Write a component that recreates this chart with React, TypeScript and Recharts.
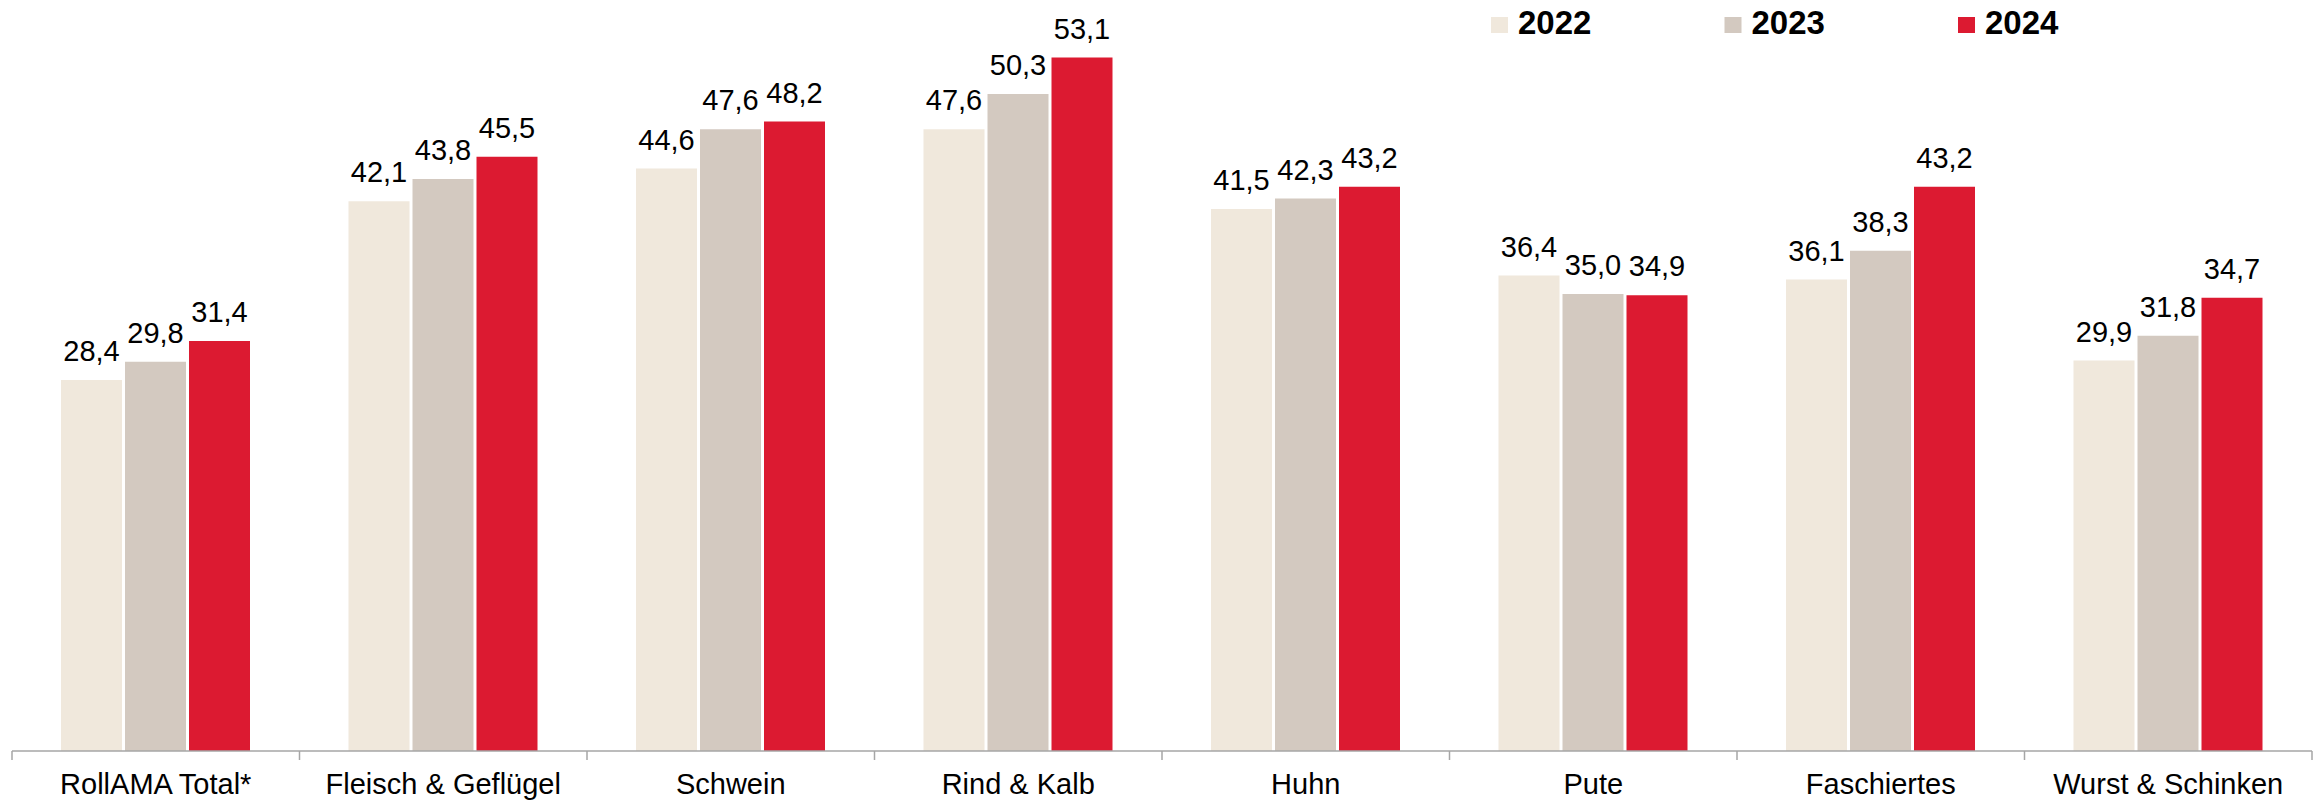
import React from "react";
import { BarChart, Bar, XAxis, YAxis, LabelList } from "recharts";

const categories = [
  "RollAMA Total*",
  "Fleisch & Geflügel",
  "Schwein",
  "Rind & Kalb",
  "Huhn",
  "Pute",
  "Faschiertes",
  "Wurst & Schinken",
];
const values2022 = [28.4, 42.1, 44.6, 47.6, 41.5, 36.4, 36.1, 29.9];
const values2023 = [29.8, 43.8, 47.6, 50.3, 42.3, 35.0, 38.3, 31.8];
const values2024 = [31.4, 45.5, 48.2, 53.1, 43.2, 34.9, 43.2, 34.7];
const years = ["2022", "2023", "2024"];

const COLORS: Record<string, string> = {
  "2022": "#f0e8dc",
  "2023": "#d3c9c0",
  "2024": "#dc1a31",
};

const FONT = '"Liberation Sans", Arial, Helvetica, sans-serif';
const WIDTH = 2318;
const HEIGHT = 802;
const TICK_SIZE = 9;
const TICK_MARGIN = 13;
const AXIS_COLOR = "#a6a6a6";

const data = categories.map((name, i) => ({
  name,
  "2022": values2022[i],
  "2023": values2023[i],
  "2024": values2024[i],
}));

const fmt = (v: any) => Number(v).toFixed(1).replace(".", ",");

function CategoryTick(props: any) {
  const { x, y, payload, index } = props;
  const half = payload && payload.offset ? payload.offset : (WIDTH - 18) / categories.length / 2;
  const top = y - TICK_SIZE - TICK_MARGIN;
  return (
    <g>
      <line x1={x - half} x2={x - half} y1={top} y2={top + TICK_SIZE} stroke={AXIS_COLOR} strokeWidth={1.5} />
      {index === categories.length - 1 && (
        <line x1={x + half} x2={x + half} y1={top} y2={top + TICK_SIZE} stroke={AXIS_COLOR} strokeWidth={1.5} />
      )}
      <text x={x} y={y} dy="0.71em" textAnchor="middle" fill="#000" fontSize={29} fontFamily={FONT}>
        {payload.value}
      </text>
    </g>
  );
}

function TopLegend() {
  const start = 1491;
  const step = 233.5;
  return (
    <svg width={WIDTH} height={50} style={{ position: "absolute", left: 0, top: 0 }}>
      {years.map((y, i) => (
        <g key={y}>
          <rect x={start + i * step} y={17} width={17} height={16} fill={COLORS[y]} />
          <text x={start + i * step + 27} y={34} fontSize={33} fontWeight={700} fontFamily={FONT} fill="#000">
            {y}
          </text>
        </g>
      ))}
    </svg>
  );
}

export default function App() {
  return (
    <div style={{ position: "absolute", left: 0, top: 0, width: WIDTH, height: HEIGHT, background: "#fff" }}>
      <BarChart
        width={WIDTH}
        height={HEIGHT}
        data={data}
        margin={{ top: 34, right: 6, left: 12, bottom: 0 }}
        barCategoryGap={49}
        barGap={3}
      >
        <XAxis
          dataKey="name"
          interval={0}
          height={51}
          tickSize={TICK_SIZE}
          tickMargin={TICK_MARGIN}
          tickLine={false}
          axisLine={{ stroke: AXIS_COLOR, strokeWidth: 1.5 }}
          tick={<CategoryTick />}
        />
        <YAxis hide domain={[0, 54.9]} />
        {years.map((y) => (
          <Bar key={y} dataKey={y} fill={COLORS[y]} isAnimationActive={false}>
            <LabelList
              dataKey={y}
              position="top"
              offset={19}
              formatter={fmt}
              fill="#000"
              fontSize={29}
              fontFamily={FONT}
            />
          </Bar>
        ))}
      </BarChart>
      <TopLegend />
    </div>
  );
}
